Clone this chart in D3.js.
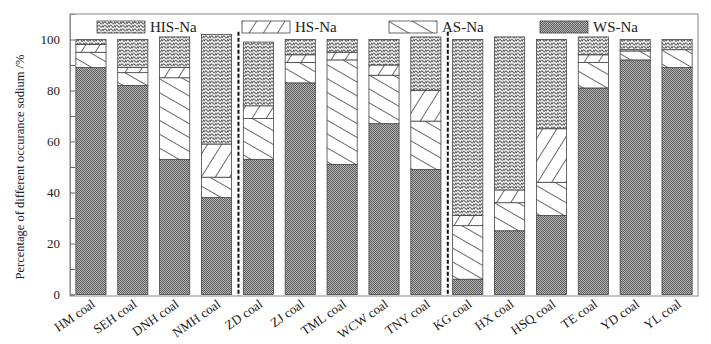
<!DOCTYPE html>
<html>
<head>
<meta charset="utf-8">
<script src="https://cdn.jsdelivr.net/npm/d3@7"></script>
<style>
  body { margin: 0; background: #fff; }
  svg text { font-family: "Liberation Serif", "Times New Roman", serif; fill: #222; }
</style>
</head>
<body>
<svg id="chart" width="711" height="344"></svg>
<script>
const coals = ["HM coal", "SEH coal", "DNH coal", "NMH coal", "ZD coal", "ZJ coal", "TML coal",
  "WCW coal", "TNY coal", "KG coal", "HX coal", "HSQ coal", "TE coal", "YD coal", "YL coal"]
// percentages, bottom to top
const wsNa = [89, 82, 53, 38, 53, 83, 51, 67, 49, 6, 25, 31, 81, 92, 89]
const asNa = [6, 5, 32, 8, 16, 8, 41, 19, 19, 21, 11, 13, 10, 3.5, 7]
const hsNa = [3, 2, 4, 13, 5, 3, 3, 4, 12, 4, 5, 21, 3, 0.5, 0]
const hisNa = [2, 11, 12, 43, 25, 6, 5, 10, 21, 69, 60, 35, 7, 4, 4]
const yTicks = [0, 20, 40, 60, 80, 100]
const dividers = ["ZD coal", "KG coal"]

const keys = ["WS-Na", "AS-Na", "HS-Na", "HIS-Na"]
const rows = coals.map((c, i) => ({
  coal: c, "WS-Na": wsNa[i], "AS-Na": asNa[i], "HS-Na": hsNa[i], "HIS-Na": hisNa[i]
}))

const svg = d3.select("#chart")
const mLeft = 70, mRight = 698, mTop = 14, mBottom = 296

const x = d3.scaleBand().domain(coals).range([mLeft, mRight]).paddingInner(0.28).paddingOuter(0.14)
const y = d3.scaleLinear().domain([0, 110]).range([294.5, mTop])

// fill patterns
const defs = svg.append("defs")

let p = defs.append("pattern").attr("id", "pat-ws").attr("patternUnits", "userSpaceOnUse")
  .attr("width", 2).attr("height", 2)
p.append("rect").attr("width", 2).attr("height", 2).attr("fill", "#b4b4b4")
p.append("rect").attr("width", 1).attr("height", 1).attr("fill", "#5e5e5e")
p.append("rect").attr("x", 1).attr("y", 1).attr("width", 1).attr("height", 1).attr("fill", "#5e5e5e")

p = defs.append("pattern").attr("id", "pat-his").attr("patternUnits", "userSpaceOnUse")
  .attr("width", 6).attr("height", 3.5)
p.append("rect").attr("width", 6).attr("height", 3.5).attr("fill", "#fff")
p.append("path").attr("d", "M0,3 C1,0.3 2.4,0.3 3,1.8 S5,3.3 6,0.6").attr("fill", "none")
  .attr("stroke", "#3a3a3a").attr("stroke-width", 0.9)

p = defs.append("pattern").attr("id", "pat-hs").attr("patternUnits", "userSpaceOnUse")
  .attr("width", 12).attr("height", 12).attr("patternTransform", "rotate(-58)")
p.append("rect").attr("width", 12).attr("height", 12).attr("fill", "#fff")
p.append("line").attr("x1", 0).attr("x2", 12).attr("y1", 0.5).attr("y2", 0.5)
  .attr("stroke", "#444").attr("stroke-width", 0.8)

p = defs.append("pattern").attr("id", "pat-as").attr("patternUnits", "userSpaceOnUse")
  .attr("width", 12).attr("height", 12).attr("patternTransform", "rotate(30)")
p.append("rect").attr("width", 12).attr("height", 12).attr("fill", "#fff")
p.append("line").attr("x1", 0).attr("x2", 12).attr("y1", 0.5).attr("y2", 0.5)
  .attr("stroke", "#444").attr("stroke-width", 0.8)

const fills = {"WS-Na": "url(#pat-ws)", "AS-Na": "url(#pat-as)", "HS-Na": "url(#pat-hs)", "HIS-Na": "url(#pat-his)"}

// frame
svg.append("rect").attr("x", mLeft).attr("y", mTop).attr("width", mRight - mLeft).attr("height", mBottom - mTop)
  .attr("fill", "none").attr("stroke", "#888").attr("stroke-width", 1)

// bars
const series = d3.stack().keys(keys)(rows)
svg.append("g").selectAll("g").data(series).join("g")
  .attr("fill", (d) => fills[d.key])
  .selectAll("rect").data((d) => d.filter((v) => v[1] - v[0] > 0)).join("rect")
  .attr("x", (d) => x(d.data.coal))
  .attr("y", (d) => y(d[1]))
  .attr("width", x.bandwidth())
  .attr("height", (d) => y(d[0]) - y(d[1]))
  .attr("stroke", "#444").attr("stroke-width", 0.8)

// dashed group dividers
svg.append("g").selectAll("line").data(dividers).join("line")
  .attr("x1", (d) => x(d) - x.step() * x.paddingInner() / 2 + 1)
  .attr("x2", (d) => x(d) - x.step() * x.paddingInner() / 2 + 1)
  .attr("y1", y(103)).attr("y2", mBottom)
  .attr("stroke", "#111").attr("stroke-width", 2).attr("stroke-dasharray", "4,2")

// y axis
const yAxis = svg.append("g").attr("transform", `translate(${mLeft},0)`)
  .call(d3.axisLeft(y).tickValues(d3.range(0, 110, 10)).tickSize(-5).tickPadding(10)
    .tickFormat((d) => yTicks.includes(d) ? d : ""))
yAxis.select(".domain").attr("stroke", "#888")
yAxis.selectAll(".tick line").attr("stroke", "#666")
yAxis.selectAll("text").attr("font-size", 13)

svg.append("text")
  .attr("transform", `translate(24,${(mTop + mBottom) / 2 + 12}) rotate(-90)`)
  .attr("text-anchor", "middle").attr("font-size", 12.5)
  .text("Percentage of different occurance sodium /%")

// x labels
svg.append("g").selectAll("text").data(coals).join("text")
  .attr("transform", (d) => `translate(${x(d) + x.bandwidth() / 2 + 5},${mBottom + 10}) rotate(-35)`)
  .attr("text-anchor", "end").attr("font-size", 13)
  .text((d) => d)

// legend
const legendItems = [
  {key: "HIS-Na", x: 97}, {key: "HS-Na", x: 242}, {key: "AS-Na", x: 389}, {key: "WS-Na", x: 540}
]
const lg = svg.append("g").selectAll("g").data(legendItems).join("g")
  .attr("transform", (d) => `translate(${d.x},21)`)
lg.append("rect").attr("width", 48).attr("height", 12)
  .attr("fill", "#fff").attr("stroke", "none")
lg.append("rect").attr("width", 48).attr("height", 12)
  .attr("fill", (d) => fills[d.key]).attr("stroke", "#444").attr("stroke-width", 0.8)
lg.append("text").attr("x", 53).attr("y", 11).attr("font-size", 15).text((d) => d.key)
</script>
</body>
</html>
